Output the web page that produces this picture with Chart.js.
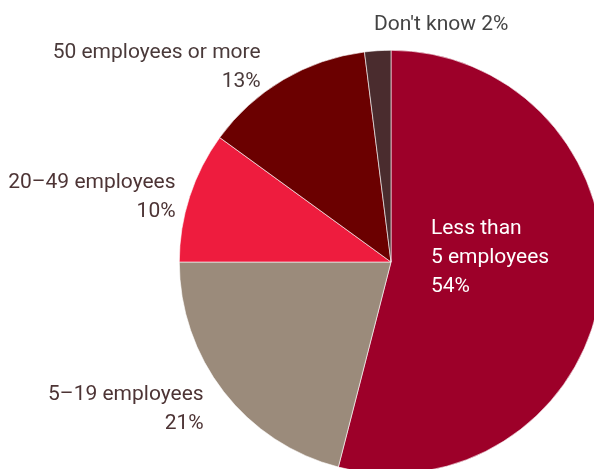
<!DOCTYPE html>
<html>
<head>
<meta charset="utf-8">
<script src="https://cdn.jsdelivr.net/npm/chart.js@4"></script>
<style>
  html, body { margin: 0; padding: 0; background: #fff; }
  #wrap { position: relative; width: 594px; height: 469px; overflow: hidden; }
  #chart { position: absolute; left: 0; top: 0; }
</style>
</head>
<body>
<div id="wrap">
  <canvas id="chart" width="782" height="524"></canvas>
</div>
<script>
// data
const categories = ['Less than 5 employees', '5–19 employees', '20–49 employees', '50 employees or more', "Don't know"];
const shares = [54, 21, 10, 13, 2];
const labelLines = [
  ['Less than', '5 employees', '54%'],
  ['5–19 employees', '21%'],
  ['20–49 employees', '10%'],
  ['50 employees or more', '13%'],
  ["Don't know 2%"]
];
const sliceColors = ['#9d0029', '#9b8b7b', '#ee1c3e', '#6b0000', '#4a2c2e'];

// label placement: distance from centre (fraction of radius), alignment, nudges, colour
const labelStyle = [
  { r: 0.19, align: 'left', color: '#ffffff', dx: 0, dy: -9 },
  { r: 1.12, align: 'right', color: '#4d3435', dx: 0, dy: 2 },
  { r: 1.07, align: 'right', color: '#4d3435', dx: 0, dy: 5 },
  { r: 1.08, align: 'right', color: '#4a3a3a', dx: -14, dy: 2 },
  { r: 1.13, align: 'left', color: '#444444', dx: -2, dy: 1 }
];

const sliceLabels = {
  id: 'sliceLabels',
  afterDraw(chart) {
    const ctx = chart.ctx;
    const arcs = chart.getDatasetMeta(0).data;
    ctx.save();
    ctx.font = '21px Roboto';
    ctx.textBaseline = 'middle';
    arcs.forEach((arc, i) => {
      const { x, y, startAngle, endAngle, outerRadius } = arc.getProps(['x', 'y', 'startAngle', 'endAngle', 'outerRadius'], true);
      const mid = (startAngle + endAngle) / 2;
      const st = labelStyle[i];
      const lx = x + Math.cos(mid) * outerRadius * st.r + st.dx;
      const ly = y + Math.sin(mid) * outerRadius * st.r + st.dy;
      const lines = labelLines[i];
      const lh = 29;
      ctx.fillStyle = st.color;
      ctx.textAlign = st.align;
      lines.forEach((t, j) => {
        ctx.fillText(t, lx, ly + (j - (lines.length - 1) / 2) * lh);
      });
    });
    ctx.restore();
  }
};

new Chart(document.getElementById('chart'), {
  type: 'pie',
  data: {
    labels: categories,
    datasets: [{
      data: shares,
      backgroundColor: sliceColors,
      borderColor: '#ffffff',
      borderWidth: 0.6
    }]
  },
  options: {
    responsive: false,
    animation: false,
    layout: { padding: { top: 50, bottom: 50 } },
    plugins: {
      legend: { display: false },
      tooltip: { enabled: false }
    }
  },
  plugins: [sliceLabels]
});
</script>
</body>
</html>
